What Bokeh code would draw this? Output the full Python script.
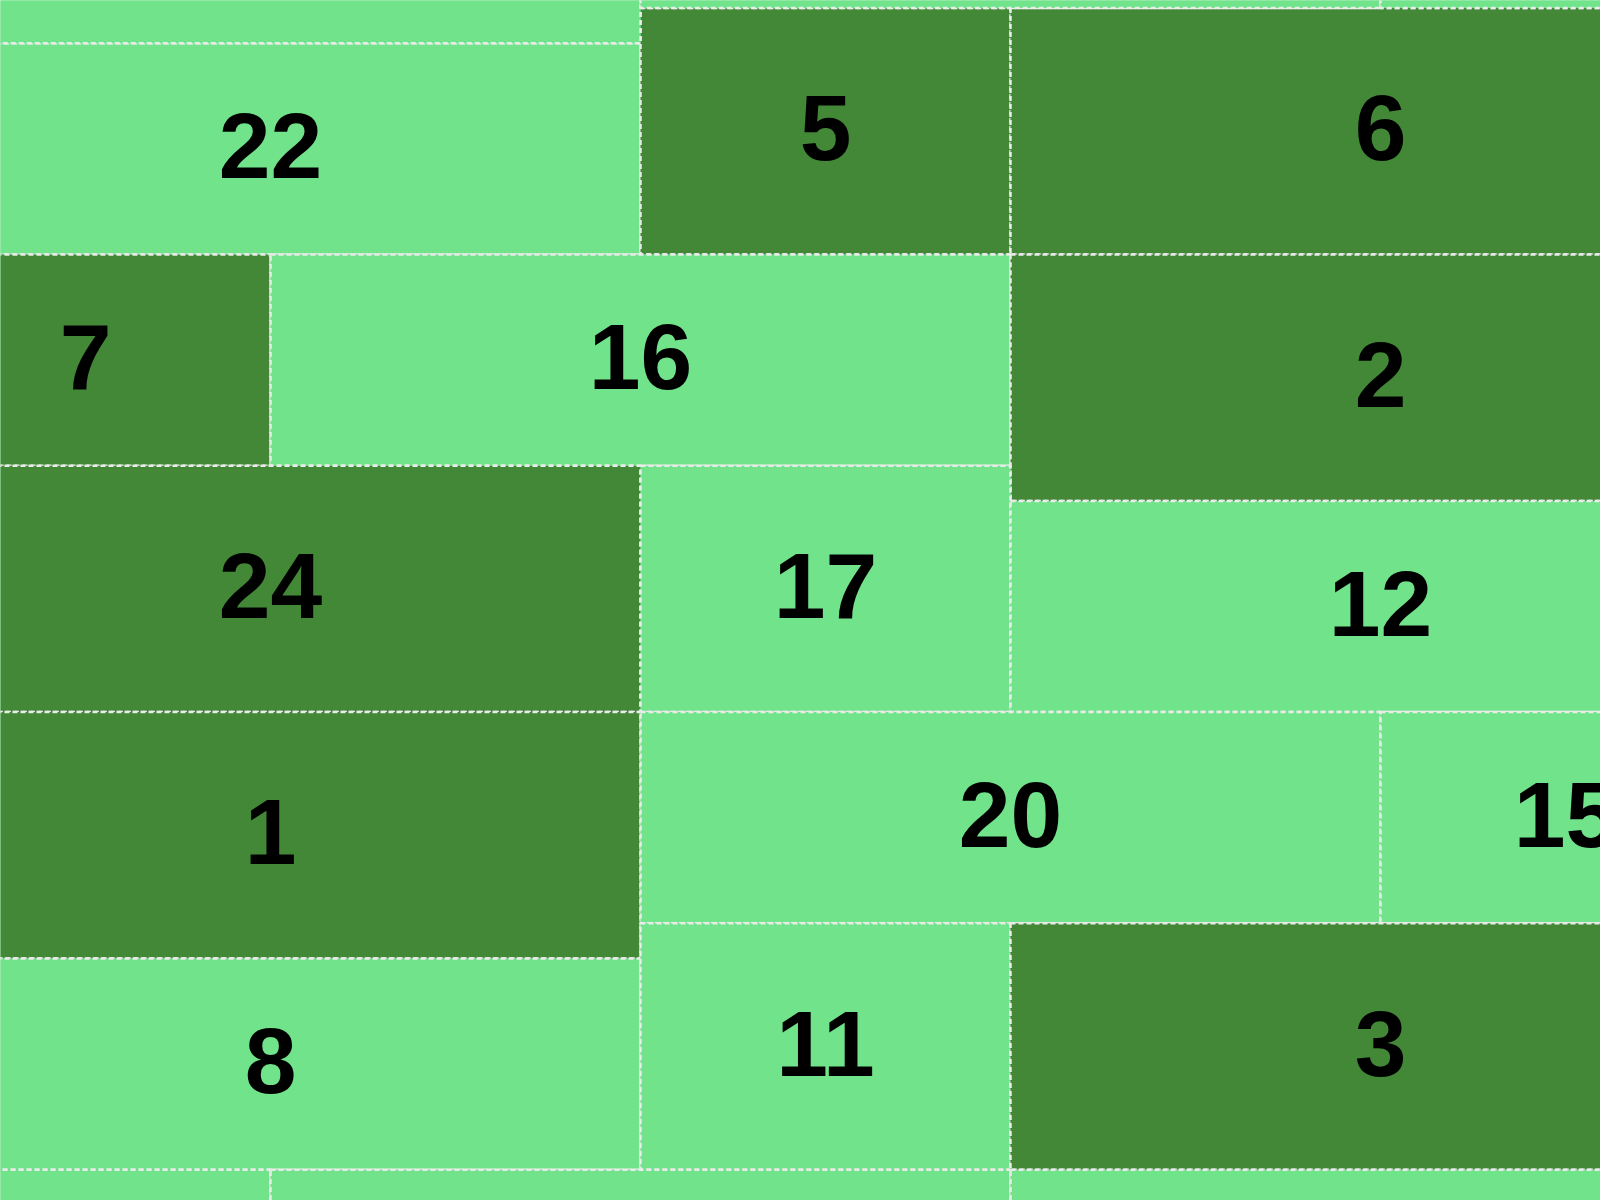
from bokeh.plotting import figure
from bokeh.models import ColumnDataSource, Range1d
from bokeh.core.properties import value
from bokeh.embed import file_html
from bokeh.resources import INLINE

# Cell labels (empty = partially visible edge cells)
cell_labels = ["22", "5", "6", "7", "16", "2", "24", "17", "12", "1", "20", "15", "8", "11", "3",
               "", "", "", "", "", ""]
# Brick extents in grid units (x: half-brick columns, y: row units, downward)
x_left = [-1, 1, 2, -1, 0, 2, -1, 1, 2, -1, 1, 3, -1, 1, 2, -1, 1, 3, -2, 0, 2]
x_right = [1, 2, 4, 0, 2, 4, 1, 2, 4, 1, 3, 4, 1, 2, 4, 1, 3, 5, 0, 2, 4]
y_top = [-6, -7, -7, 0, 0, 0, 6, 6, 7, 13, 13, 13, 20, 19, 19, -12, -13, -13, 26, 26, 26]
y_bottom = [0, 0, 0, 6, 6, 7, 13, 13, 13, 20, 19, 19, 26, 26, 26, -6, -7, -7, 32, 32, 32]
is_dark = [0, 1, 1, 1, 0, 1, 1, 0, 0, 1, 0, 0, 0, 0, 1, 0, 0, 0, 0, 0, 0]

LIGHT = "#71e38a"
DARK = "#428837"

colors = [DARK if d else LIGHT for d in is_dark]
cx = [(a + b) / 2 for a, b in zip(x_left, x_right)]
cy = [(a + b) / 2 for a, b in zip(y_top, y_bottom)]

src = ColumnDataSource(dict(left=x_left, right=x_right, top=y_top, bottom=y_bottom,
                            color=colors, cx=cx, cy=cy, label=cell_labels))

p = figure(width=1600, height=1200, output_backend="svg", toolbar_location=None,
           x_range=Range1d(-270 / 370, 1330 / 370),
           y_range=Range1d(946 / 35.2, -254 / 35.2),
           min_border=0, min_border_left=0, min_border_right=0,
           min_border_top=0, min_border_bottom=0)
p.axis.visible = False
p.grid.visible = False
p.outline_line_color = None
p.background_fill_color = LIGHT
p.border_fill_color = LIGHT

p.quad(left="left", right="right", top="top", bottom="bottom", source=src,
       fill_color="color", line_color="#ebebeb", line_width=2.5, line_dash="5 3")

p.text(x="cx", y="cy", text="label", source=src,
       text_font=value("Liberation Sans"), text_font_style="bold",
       text_font_size="93px", text_align="center", text_baseline="middle",
       text_color="black", y_offset=-3)

open("out.html", "w").write(file_html(p, INLINE))
